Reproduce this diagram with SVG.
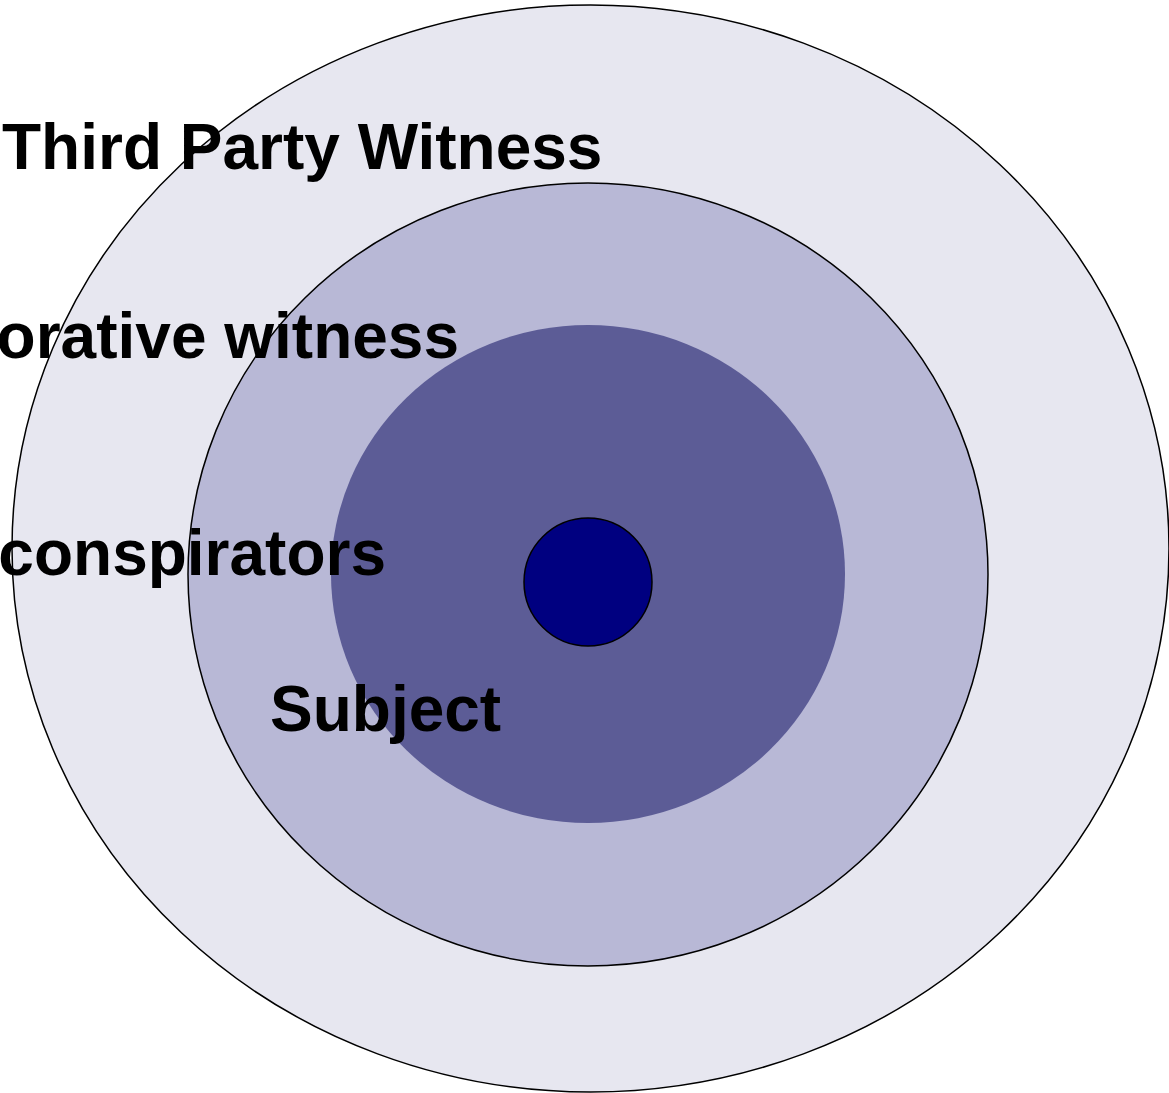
<svg xmlns="http://www.w3.org/2000/svg" width="1169" height="1093" viewBox="0 0 1169 1093">
<style>
.ring{stroke:#000;stroke-width:1.5}
.lbl{font-family:"Liberation Sans",Arial,sans-serif;font-weight:bold;font-size:64px;fill:#000}
</style>
<rect width="1169" height="1093" fill="#fff"/>
<g id="outer"><ellipse class="ring" cx="590.5" cy="548.5" rx="578.5" ry="543.5" fill="#E7E7F0"/></g>
<g id="middle"><ellipse class="ring" cx="588" cy="574.5" rx="400" ry="391.5" fill="#B8B8D6"/></g>
<g id="inner"><ellipse cx="588" cy="574" rx="257" ry="249" fill="#5C5C96"/></g>
<g id="subject-core"><circle class="ring" cx="588" cy="582" r="64" fill="#000080"/></g>
<g id="labels">
<text class="lbl" x="2" y="169">Third Party Witness</text>
<text class="lbl" x="459" y="358" text-anchor="end">Corroborative witness</text>
<text class="lbl" x="386" y="575" text-anchor="end">Co-conspirators</text>
<text class="lbl" x="270" y="731">Subject</text>
</g>
<g id="connectors"/>
</svg>
